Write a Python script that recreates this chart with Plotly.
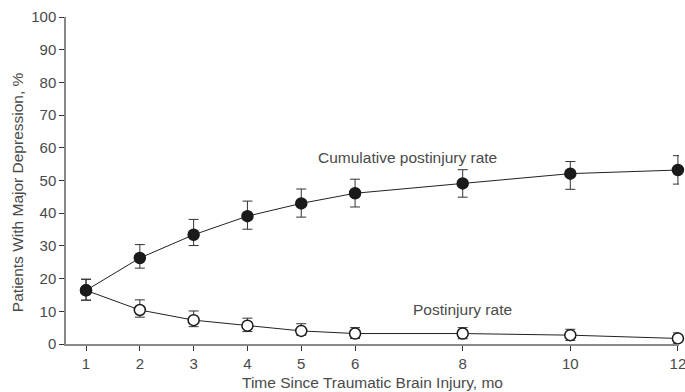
import plotly.graph_objects as go

months = [1, 2, 3, 4, 5, 6, 8, 10, 12]
cum_rate = [16.4, 26.3, 33.4, 39.1, 43.0, 46.1, 49.1, 52.1, 53.2]
cum_hi = [19.8, 30.4, 38.1, 43.7, 47.4, 50.4, 53.3, 55.8, 57.6]
cum_lo = [13.4, 23.2, 30.1, 35.1, 38.8, 41.9, 44.9, 47.3, 48.9]
post_rate = [16.4, 10.4, 7.3, 5.6, 4.0, 3.2, 3.2, 2.7, 1.7]
post_hi = [19.8, 13.5, 10.1, 7.9, 6.2, 5.0, 5.0, 4.5, 3.4]
post_lo = [13.4, 8.2, 5.3, 3.8, 2.7, 1.7, 1.6, 1.1, 0.1]

x_ticks = [1, 2, 3, 4, 5, 6, 8, 10, 12]
y_ticks = list(range(0, 101, 10))

FONT = "Liberation Sans, Arial, sans-serif"
font_color = "#4a4a4a"

fig = go.Figure()

def add_series(y, hi, lo, fill):
    fig.add_trace(go.Scatter(
        x=months, y=y, mode="lines+markers",
        line=dict(color="#222222", width=1),
        marker=dict(size=11, color=fill, line=dict(color="#1a1a1a", width=1.5)),
        error_y=dict(type="data", symmetric=False,
                     array=[h - v for h, v in zip(hi, y)],
                     arrayminus=[v - l for v, l in zip(y, lo)],
                     color="#333333", thickness=1, width=5),
        showlegend=False, cliponaxis=False,
    ))

add_series(post_rate, post_hi, post_lo, "white")
add_series(cum_rate, cum_hi, cum_lo, "#1a1a1a")

fig.add_annotation(x=6.98, y=56.9, text="Cumulative postinjury rate", showarrow=False,
                   font=dict(size=15.5, color=font_color, family=FONT))
fig.add_annotation(x=7.99, y=10.7, text="Postinjury rate", showarrow=False,
                   font=dict(size=15.5, color=font_color, family=FONT))

# axis titles
fig.add_annotation(xref="paper", yref="paper", x=0.5, y=-0.118, yanchor="middle",
                   text="Time Since Traumatic Brain Injury, mo", showarrow=False,
                   font=dict(size=15.5, color=font_color, family=FONT))
fig.add_annotation(xref="paper", yref="paper", x=-0.078, y=0.465, xanchor="center",
                   yanchor="middle", textangle=-90,
                   text="Patients With Major Depression, %", showarrow=False,
                   font=dict(size=15.5, color=font_color, family=FONT))

fig.update_layout(
    width=685, height=392,
    margin=dict(l=66, r=6, t=17, b=48),
    plot_bgcolor="white", paper_bgcolor="white",
    font=dict(family=FONT, size=15, color=font_color),
    xaxis=dict(range=[0.628, 12.02], tickvals=x_ticks, ticktext=[str(t) for t in x_ticks],
               showgrid=False, zeroline=False, showline=True, linecolor="#888888", linewidth=1.5,
               ticks="outside", ticklen=5, tickcolor="#333333", automargin=False,
               ticklabeloverflow="allow",
               tickfont=dict(size=15, color=font_color)),
    yaxis=dict(range=[0, 100], tickvals=y_ticks, showgrid=False, zeroline=False,
               showline=True, linecolor="#888888", linewidth=1.5,
               ticks="outside", ticklen=5, tickcolor="#333333", automargin=False,
               ticklabeloverflow="allow",
               tickfont=dict(size=15, color=font_color)),
)

fig.write_html("out.html", config={"displayModeBar": False},
               post_script="document.body.style.margin='0';document.body.style.overflow='hidden';")
